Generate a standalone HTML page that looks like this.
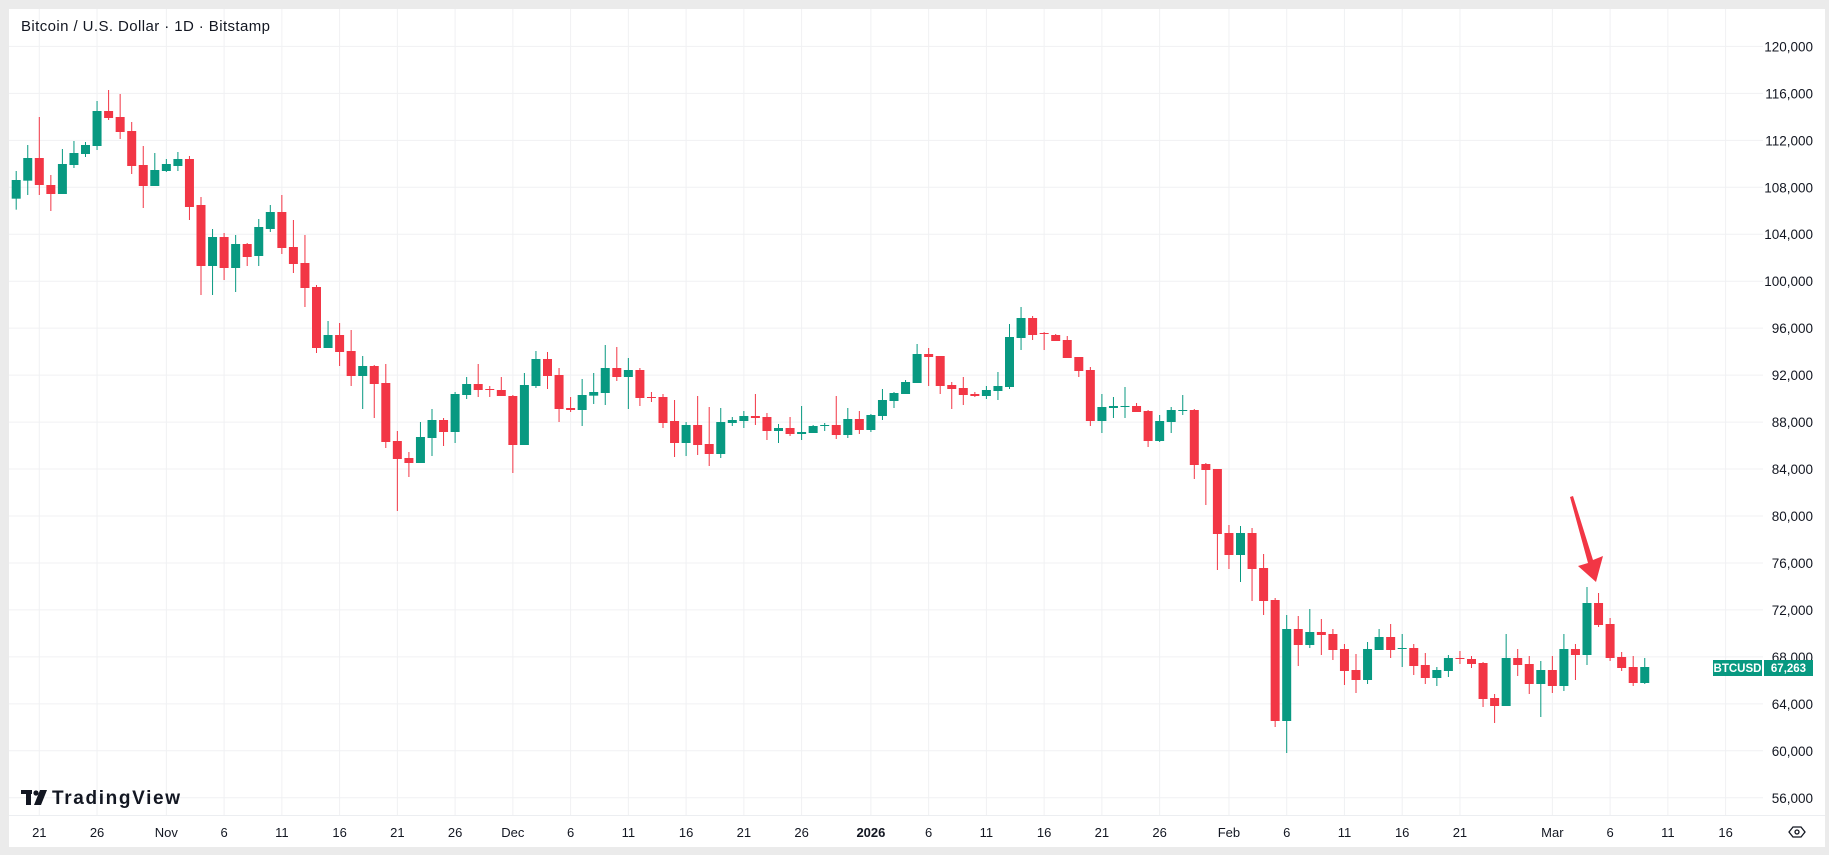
<!DOCTYPE html>
<html><head><meta charset="utf-8"><style>
html,body{margin:0;padding:0;background:#ebebeb;}
svg{display:block;}
text{font-family:"Liberation Sans",sans-serif;}
</style></head><body>
<svg id="s" width="1829" height="855" viewBox="0 0 1829 855" xmlns="http://www.w3.org/2000/svg">
<rect x="0" y="0" width="1829" height="855" fill="#ebebeb"/>
<rect x="9" y="9" width="1816" height="838" fill="#ffffff"/>
<g id="grid"></g>
<g id="candles"></g>
<text x="21" y="31" font-size="15" fill="#131722" textLength="249">Bitcoin / U.S. Dollar · 1D · Bitstamp</text>
<g id="yl"></g>
<g id="xl"></g>
<!-- arrow -->
<polygon points="1570,497 1573,496 1593,560 1603,556 1596,582 1578,566 1588,563" fill="#f23645"/>
<!-- BTCUSD label -->
<rect x="1713" y="660" width="49" height="16" fill="#089981"/>
<rect x="1764" y="660" width="49" height="16" fill="#089981"/>
<text x="1737.5" y="672" font-size="11.5" font-weight="bold" fill="#fff" text-anchor="middle">BTCUSD</text>
<text x="1788.5" y="672" font-size="11.5" font-weight="bold" fill="#fff" text-anchor="middle">67,263</text>
<!-- TradingView logo -->
<g transform="translate(21,790)">
<rect x="0" y="0" width="11" height="4" fill="#131722"/>
<rect x="5" y="0" width="5" height="15" fill="#131722"/>
<circle cx="15" cy="3" r="2.6" fill="#131722"/>
<polygon points="19,0 26,0 20,15 13,15" fill="#131722"/>
<text x="31" y="14" font-size="19" font-weight="bold" fill="#131722" textLength="128">TradingView</text>
</g>
<!-- eye icon -->
<g transform="translate(1797,832)" fill="none" stroke="#131722" stroke-width="1.3">
<polygon points="-8,0 -4,-5 4,-5 8,0 4,5 -4,5"/>
<circle cx="0" cy="0" r="2"/>
</g>
</svg>
<script>
var NS="http://www.w3.org/2000/svg";
function el(p,t,a,txt){var e=document.createElementNS(NS,t);for(var k in a)e.setAttribute(k,a[k]);if(txt!=null)e.textContent=txt;p.appendChild(e);return e;}
var grid=document.getElementById('grid'),yl=document.getElementById('yl'),xl=document.getElementById('xl'),cg=document.getElementById('candles');
function Y(p){return 46.4+(120000-p)*0.01174;}
function X(d){return 39.3+11.55*d;}
for(var p=56000;p<=120000;p+=4000){var y=Y(p);
el(grid,'line',{x1:9,x2:1763,y1:y,y2:y,stroke:'#f0f1f3','stroke-width':1});
var s=p.toLocaleString('en-US');
el(yl,'text',{x:1813,y:y+5,'font-size':13.5,fill:'#131722','text-anchor':'end'},s);}
var labs=[[0,'21'],[5,'26'],[11,'Nov'],[16,'6'],[21,'11'],[26,'16'],[31,'21'],[36,'26'],[41,'Dec'],[46,'6'],[51,'11'],[56,'16'],[61,'21'],[66,'26'],[72,'2026',1],[77,'6'],[82,'11'],[87,'16'],[92,'21'],[97,'26'],[103,'Feb'],[108,'6'],[113,'11'],[118,'16'],[123,'21'],[131,'Mar'],[136,'6'],[141,'11'],[146,'16']];
labs.forEach(function(l){var x=X(l[0]);
el(grid,'line',{x1:x,x2:x,y1:9,y2:815,stroke:'#f0f1f3','stroke-width':1});
var a={x:x,y:837,'font-size':13,fill:'#131722','text-anchor':'middle'};if(l[2])a['font-weight']='bold';
el(xl,'text',a,l[1]);});
el(grid,'line',{x1:9,x2:1825,y1:815.5,y2:815.5,stroke:'#eceef1','stroke-width':1});
var groups=[
[80,[['g',300,356,273,389],['g',234,302,195,345],['r',234,315,111,345],['r',315,342,285,393],['g',252,342,207,342],['g',219,255,183,264],['g',195,222,186,231],['g',93,198,63,210],['r',93,114,30,120],['r',111,156,42,177],['r',153,258,126,282],['r',255,318,198,384],['g',270,318,219,318],['g',252,273,237,276],['g',237,258,216,273],['r',237,381,228,420],['r',375,558,351,645],['g',471,558,447,645],['r',471,564,459,600],['g',492,564,465,636],['r',492,531,489,558],['g',441,528,417,558],['g',396,447,375,456],['r',396,504,345,522],['r',501,552,420,579]]],
[160,[['r',309,384,225,441],['r',381,564,375,579],['g',525,564,483,564],['r',525,576,489,618],['r',573,648,510,678],['g',618,648,588,747],['r',618,672,615,774],['r',669,846,612,864],['r',843,897,813,1053],['r',894,909,876,951],['g',831,909,786,909],['g',780,834,747,888],['r',780,816,774,858],['g',702,816,696,849],['g',672,705,651,717],['r',672,690,612,711],['r',687,690,678,711],['r',690,708,651,708],['r',708,855,705,939],['g',675,855,639,855],['g',597,678,573,684],['r',597,648,576,687],['r',645,747,624,786],['r',744,750,711,756],['g',705,750,657,798]]],
[330,[['g',186,197,129,222],['g',114,189,45,225],['r',114,141,51,153],['g',120,141,84,237],['r',120,204,114,228],['r',201,204,186,216],['r',201,279,192,294],['r',273,339,210,381],['g',285,339,276,378],['r',285,345,198,375],['r',342,372,231,408],['g',276,372,234,384],['g',270,279,261,288],['g',258,273,243,294],['r',258,264,192,285],['r',261,303,249,330],['g',294,303,282,339],['r',294,312,261,318],['g',306,312,228,330],['g',288,309,285,309],['g',285,288,279,303],['r',285,315,198,327],['g',267,315,234,324],['r',267,300,243,312],['g',255,300,252,306]]],
[280,[['g',360,408,327,420],['g',339,363,336,384],['g',306,342,300,342],['g',222,309,192,309],['r',222,231,204,318],['r',228,318,228,342],['r',315,327,306,387],['r',324,345,291,375],['r',342,348,336,351],['g',330,348,318,357],['g',318,333,276,360],['g',171,321,132,327],['g',114,174,81,210],['r',114,165,108,180],['r',159,162,156,210],['r',165,183,162,183],['r',180,234,168,234],['r',231,273,231,291],['r',270,423,261,438],['g',381,423,342,459],['g',378,384,351,414],['g',378,381,321,414],['r',378,396,369,396],['r',393,483,390,501],['g',423,483,405,486]]],
[380,[['g',90,126,81,159],['g',90,93,45,105],['r',90,255,87,297],['r',252,270,249,375],['r',267,462,267,570],['r',459,525,435,567],['g',459,525,438,606],['r',459,567,444,663],['r',564,663,522,705],['r',660,1023,654,1041],['g',747,1023,705,1119],['r',747,795,708,858],['g',756,795,687,804],['r',756,765,717,825],['r',762,810,747,840],['r',807,873,792,915],['r',870,900,822,939],['g',807,900,786,912],['g',771,810,747,810],['r',771,810,732,834],['g',804,807,762,861],['r',804,858,792,885],['r',855,894,819,912],['g',870,894,861,918],['g',834,873,825,891],['r',834,837,813,852]]],
[480,[['r',537,552,528,564],['r',549,657,546,681],['r',654,678,642,729],['g',534,678,462,678],['r',534,555,507,588],['r',552,612,528,642],['g',570,612,543,711],['r',570,618,528,639],['g',507,618,462,633],['r',507,525,492,600],['g',369,525,321,555],['r',369,435,339,441],['r',432,534,414,543],['r',531,564,516,573],['r',561,609,528,618],['g',561,609,534,612]]]
];
var n=1;
groups.forEach(function(g){var off=g[0];g[1].forEach(function(c){
var x=X(n-3);var col=c[0]=='g'?'#089981':'#f23645';
var bt=c[1]/3+off,bb=c[2]/3+off,wt=c[3]/3+off,wb=c[4]/3+off;
el(cg,'rect',{x:x-0.5,y:wt,width:1,height:Math.max(1,wb-wt),fill:col});
el(cg,'rect',{x:x-4.5,y:bt,width:9,height:Math.max(1,bb-bt),fill:col});
n++;});});
</script>
</body></html>
